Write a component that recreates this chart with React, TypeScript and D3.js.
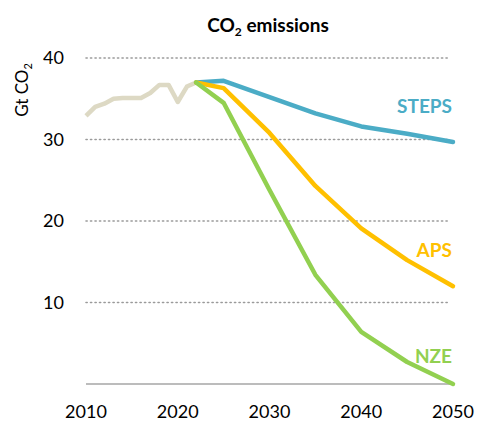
import * as d3 from "d3";

const histYears = [2010, 2011, 2012, 2013, 2014, 2015, 2016, 2017, 2018, 2019, 2020, 2021, 2022];
const histValues = [32.9, 34.0, 34.4, 35.0, 35.1, 35.1, 35.1, 35.7, 36.7, 36.7, 34.6, 36.5, 37.0];

const scenYears = [2022, 2025, 2030, 2035, 2040, 2045, 2050];
const steps = [37.0, 37.2, 35.2, 33.2, 31.6, 30.7, 29.7];
const aps = [37.0, 36.3, 30.8, 24.3, 19.1, 15.2, 12.0];
const nze = [37.0, 34.5, 23.8, 13.4, 6.4, 2.7, 0.0];

const xTicks = [2010, 2020, 2030, 2040, 2050];
const yTicks = [10, 20, 30, 40];

const W = 477;
const H = 421;
const font = "Lato, 'Open Sans', sans-serif";

export default function App() {
  const x = d3.scaleLinear().domain([2010, 2050]).range([86, 453]);
  const y = d3.scaleLinear().domain([0, 40]).range([384, 58]);

  const line = d3
    .line<[number, number]>()
    .x((d) => x(d[0]))
    .y((d) => y(d[1]));

  const series = [
    { name: "STEPS", values: steps, color: "#4BACC6", labelY: 33.2 },
    { name: "APS", values: aps, color: "#FFC000", labelY: 15.6 },
    { name: "NZE", values: nze, color: "#92D050", labelY: 2.6 },
  ];

  const histPath = line(histYears.map((yr, i) => [yr, histValues[i]]));

  return (
    <svg
      width={W}
      height={H}
      style={{ position: "absolute", left: 0, top: 0, background: "white" }}
    >
      <text x={268} y={32} textAnchor="middle" fontFamily={font} fontWeight="bold" fontSize={19} fill="#000">
        CO<tspan fontSize={12} dy={4}>2</tspan>
        <tspan dy={-4}> emissions</tspan>
      </text>
      <text
        transform={`translate(28,90) rotate(-90)`}
        textAnchor="middle"
        fontFamily={font}
        fontSize={17}
        fill="#000"
      >
        Gt CO<tspan fontSize={11} dy={4}>2</tspan>
      </text>

      {yTicks.map((t) => (
        <g key={t}>
          <line
            x1={x(2010)}
            x2={450}
            y1={y(t)}
            y2={y(t)}
            stroke="#9a9a9a"
            strokeWidth={1.6}
            strokeDasharray="1.2 3.3"
            strokeLinecap="round"
          />
          <text x={64} y={y(t) + 6} textAnchor="end" fontFamily={font} fontSize={18} fill="#000">
            {t}
          </text>
        </g>
      ))}
      <line x1={x(2010)} x2={x(2050)} y1={y(0)} y2={y(0)} stroke="#a6a6a6" strokeWidth={1.5} />

      {xTicks.map((t) => (
        <text key={t} x={x(t)} y={418} textAnchor="middle" fontFamily={font} fontSize={18} fill="#000">
          {t}
        </text>
      ))}

      <path d={histPath ?? ""} fill="none" stroke="#DDD9C4" strokeWidth={4.5} strokeLinejoin="round" />

      {series.map((s) => (
        <path
          key={s.name}
          d={line(scenYears.map((yr, i) => [yr, s.values[i]])) ?? ""}
          fill="none"
          stroke={s.color}
          strokeWidth={4.5}
          strokeLinejoin="round"
          strokeLinecap="round"
        />
      ))}

      {series.map((s) => (
        <text
          key={s.name + "-l"}
          x={452}
          y={y(s.labelY)}
          textAnchor="end"
          fontFamily={font}
          fontWeight="bold"
          fontSize={19}
          fill={s.color}
        >
          {s.name}
        </text>
      ))}
    </svg>
  );
}
